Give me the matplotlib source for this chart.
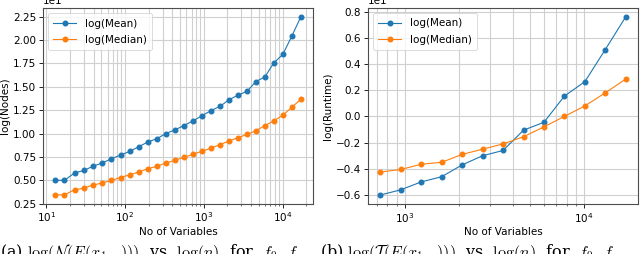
import matplotlib
matplotlib.use("Agg")
import matplotlib.pyplot as plt
import matplotlib.ticker as mticker

# number of variables (each step ~1.3x)
n_vars = [13, 17, 23, 30, 39, 51, 67, 88, 115, 150, 195, 254, 331, 431,
          561, 730, 949, 1234, 1605, 2087, 2714, 3529, 4588, 5965, 7755,
          10082, 13107, 17040]

# left panel: log(Nodes)
nodes_mean = [5.0, 5.0, 5.8, 6.05, 6.5, 6.85, 7.3, 7.7, 8.1, 8.6, 9.1, 9.45,
              10.0, 10.4, 10.85, 11.35, 11.9, 12.45, 12.9, 13.6, 14.1, 14.5,
              15.55, 16.05, 17.55, 18.45, 20.4, 22.45]
nodes_median = [3.45, 3.45, 4.0, 4.15, 4.5, 4.7, 5.0, 5.3, 5.6, 5.9, 6.25, 6.5,
                6.85, 7.15, 7.45, 7.8, 8.1, 8.45, 8.8, 9.2, 9.55, 9.9, 10.3,
                10.85, 11.35, 11.95, 12.8, 13.65]

# right panel: log(Runtime), last 13 sizes only
rt_vars = n_vars[-13:]
rt_mean = [-6.0, -5.6, -5.0, -4.6, -3.7, -3.0, -2.6, -1.05, -0.45, 1.55,
           2.65, 5.1, 7.6]
rt_median = [-4.25, -4.05, -3.65, -3.5, -2.9, -2.5, -2.1, -1.55, -0.8, 0.0,
             0.8, 1.8, 2.85]

plt.rcParams['mathtext.fontset'] = 'cm'

fig = plt.figure(figsize=(6.4, 2.54), dpi=100)
ax1 = fig.add_axes([0.0672, 0.198, 0.4219, 0.77])
ax2 = fig.add_axes([0.575, 0.197, 0.4219, 0.772])

panels = [
    (ax1, n_vars, nodes_mean, nodes_median, "log(Nodes)", 2.5),
    (ax2, rt_vars, rt_mean, rt_median, "log(Runtime)", 2),
]

for ax, xs, mean, median, ylab, step in panels:
    ax.plot(xs, mean, marker='o', markersize=3.3, linewidth=0.8,
            color='#1f77b4', label='log(Mean)')
    ax.plot(xs, median, marker='o', markersize=3.3, linewidth=0.8,
            color='#ff7f0e', label='log(Median)')
    ax.set_xscale('log')
    ax.yaxis.set_major_locator(mticker.MultipleLocator(step))
    # force the 1e1 multiplier on both panels
    ax.ticklabel_format(axis='y', style='sci', scilimits=(1, 1))
    ax.grid(True, which='both', axis='x', color='#d0d0d0', linewidth=0.8)
    ax.grid(True, which='major', axis='y', color='#d0d0d0', linewidth=0.8)
    ax.set_axisbelow(True)
    ax.set_xlabel('No of Variables', fontsize=7.5, labelpad=2)
    ax.set_ylabel(ylab, fontsize=7.5, labelpad=2)
    ax.tick_params(labelsize=7.5, width=0.6, length=3, pad=2)
    ax.tick_params(which='minor', width=0.4, length=1.5)
    ax.yaxis.get_offset_text().set_fontsize(7.5)
    for s in ax.spines.values():
        s.set_color('0.3')
        s.set_linewidth(0.8)
    leg = ax.legend(loc='upper left', fontsize=7.5, handlelength=2.2,
                    borderpad=0.5, labelspacing=0.6, fancybox=True)
    leg.get_frame().set_linewidth(0.6)

# captions, cut off by the bottom edge as in the source
fig.text(0.0, -0.01, r"(a) $\log(\mathcal{N}(E(x_{1:n})))$  vs  $\log(n)$  for  $f_0$  $f$",
         fontsize=11.5, family='DejaVu Serif', ha='left', va='baseline')
fig.text(0.5, -0.01, r"(b) $\log(\mathcal{T}(E(x_{1:n})))$  vs  $\log(n)$  for  $f_0$  $f$",
         fontsize=11.5, family='DejaVu Serif', ha='left', va='baseline')

fig.savefig("out.png", dpi=100)
